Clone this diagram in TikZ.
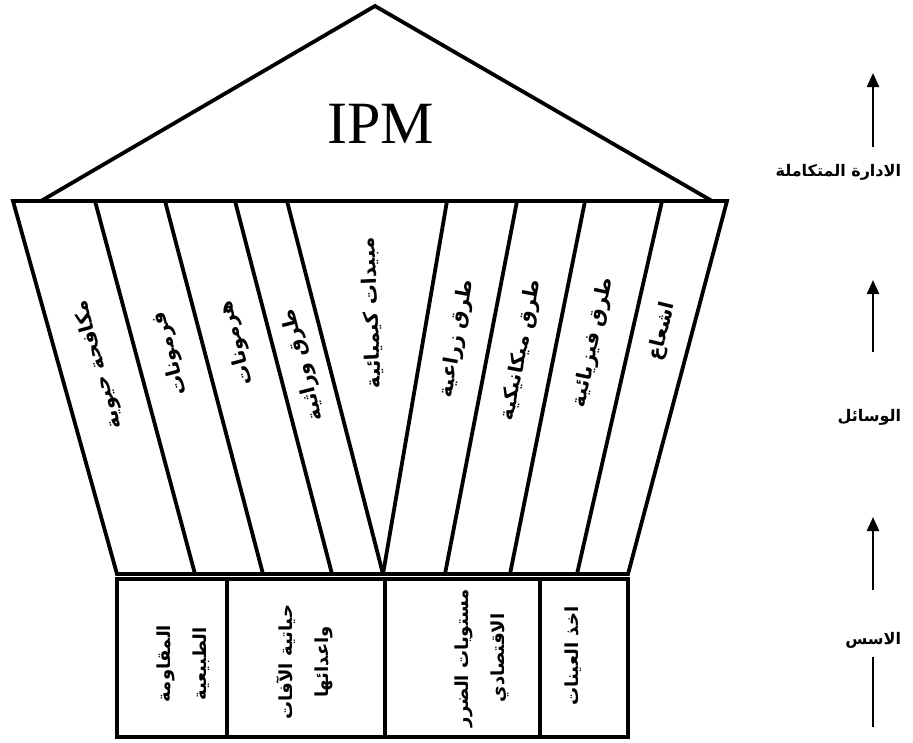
\documentclass[tikz,border=0pt]{standalone}
\usepackage{fontspec}
\setmainfont{Liberation Serif}
\newfontfamily\arabicfont[Script=Arabic]{DejaVu Sans}
\TeXXeTstate=1
\usetikzlibrary{arrows.meta,calc}

\begin{document}
\begin{tikzpicture}[x=1pt,y=-1pt,line width=3.8pt]
\tikzset{
    means/.style={font=\fontsize{20}{24}\arabicfont\bfseries, inner sep=0pt, sloped, allow upside down},
    basis/.style={font=\fontsize{18}{36}\arabicfont\bfseries, inner sep=0pt, rotate=90, align=center},
    level/.style={font=\fontsize{16}{20}\arabicfont\bfseries, inner sep=0pt, anchor=east},
    rise/.style={line width=2.4pt, -{Triangle[width=12pt,length=14pt]}},
}
\def\R#1{\beginR#1\endR}
\useasboundingbox (0,0) rectangle (913,742);

\coordinate (apex) at (375,6);    % top of the roof
\coordinate (eaveL) at (41,201);  % left end of the roof
\coordinate (eaveR) at (712,201); % right end of the roof
\coordinate (t0) at (13,201);  \coordinate (b0) at (117,574); % column lines, top and bottom
\coordinate (t1) at (95,201);  \coordinate (b1) at (195,574);
\coordinate (t2) at (165,201); \coordinate (b2) at (263,574);
\coordinate (t3) at (235,201); \coordinate (b3) at (332,574);
\coordinate (t4) at (287,201); \coordinate (b4) at (383,574);
\coordinate (t5) at (447,201); \coordinate (b5) at (383,574);
\coordinate (t6) at (517,201); \coordinate (b6) at (445,574);
\coordinate (t7) at (585,201); \coordinate (b7) at (510,574);
\coordinate (t8) at (662,201); \coordinate (b8) at (577,574);
\coordinate (t9) at (727,201); \coordinate (b9) at (628,574);
\coordinate (s0) at (117,579); \coordinate (e0) at (117,737); % base boxes, top and bottom
\coordinate (s1) at (227,579); \coordinate (e1) at (227,737);
\coordinate (s2) at (385,579); \coordinate (e2) at (385,737);
\coordinate (s3) at (540,579); \coordinate (e3) at (540,737);
\coordinate (s4) at (628,579); \coordinate (e4) at (628,737);

% Draw the roof first.
\draw (eaveL) -- (apex) -- (eaveR);
\node (ipm) at (381,124) {\fontsize{60}{60}\selectfont IPM};

% Draw the columns.
\draw (t0) -- (t9) -- (b9) -- (b0) -- cycle;
\draw (t1) -- (b1);
\draw (t2) -- (b2);
\draw (t3) -- (b3);
\draw (t4) -- (b4);
\draw (t5) -- (b5);
\draw (t6) -- (b6);
\draw (t7) -- (b7);
\draw (t8) -- (b8);

% Put the means in the columns, read from the top.
\path ($(b0)!.5!(b1)$) -- ($(t0)!.5!(t1)$) node[means, pos=.56] (c1) {\R{مكافحة حيوية}};
\path ($(b1)!.5!(b2)$) -- ($(t1)!.5!(t2)$) node[means, pos=.59] (c2) {\R{فرمونات}};
\path ($(b2)!.5!(b3)$) -- ($(t2)!.5!(t3)$) node[means, pos=.62] (c3) {\R{هرمونات}};
\path ($(b3)!.5!(b4)$) -- ($(t3)!.5!(t4)$) node[means, pos=.56] (c4) {\R{طرق وراثية}};
\path ($(b4)!.5!(b5)$) -- ($(t4)!.5!(t5)$) node[means, pos=.70] (c5) {\R{مبيدات كيميائية}};
\path ($(b5)!.5!(b6)$) -- ($(t5)!.5!(t6)$) node[means, pos=.63] (c6) {\R{طرق زراعية}};
\path ($(b6)!.5!(b7)$) -- ($(t6)!.5!(t7)$) node[means, pos=.60] (c7) {\R{طرق ميكانيكية}};
\path ($(b7)!.5!(b8)$) -- ($(t7)!.5!(t8)$) node[means, pos=.62] (c8) {\R{طرق فيزيائية}};
\path ($(b8)!.5!(b9)$) -- ($(t8)!.5!(t9)$) node[means, pos=.65] (c9) {\R{اشعاع}};

% Draw the base boxes.
\draw (s0) rectangle (e4);
\draw (s1) -- (e1);
\draw (s2) -- (e2);
\draw (s3) -- (e3);
\node[basis] (f1) at (183,664) {\R{المقاومة}\\\R{الطبيعية}};
\node[basis] (f2) at (305,662) {\R{حياتية الآفات}\\\R{واعدائها}};
\node[basis] (f3) at (482,658) {\R{مستويات الضرر}\\\R{الاقتصادي}};
\node[basis] (f4) at (573,656) {\R{اخذ العينات}};

% Levels on the right, with arrows between them.
\node[level] (manage) at (903,172) {\R{الادارة المتكاملة}};
\node[level] (tools) at (903,417) {\R{الوسائل}};
\node[level] (bases) at (903,640) {\R{الاسس}};
\coordinate (u1) at (873,147); \coordinate (v1) at (873,73);
\coordinate (u2) at (873,352); \coordinate (v2) at (873,280);
\coordinate (u3) at (873,590); \coordinate (v3) at (873,517);
\coordinate (u4) at (873,727); \coordinate (v4) at (873,657);
\draw[rise] (u1) -- (v1);
\draw[rise] (u2) -- (v2);
\draw[rise] (u3) -- (v3);
\draw[line width=2.4pt] (u4) -- (v4);
\end{tikzpicture}
\end{document}
